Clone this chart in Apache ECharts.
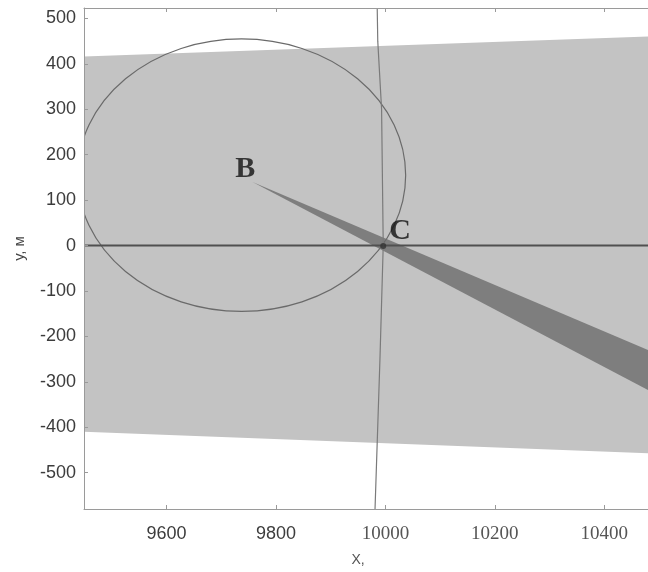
<!DOCTYPE html>
<html>
<head>
<meta charset="utf-8">
<script src="https://cdn.jsdelivr.net/npm/echarts@6/dist/echarts.min.js"></script>
<style>html,body{margin:0;padding:0;background:#fff}#c{width:648px;height:572px}</style>
</head>
<body>
<div id="c"></div>
<script>
// ---- data ----
const xTicks = [9600, 9800, 10000, 10200, 10400];
const yTicks = [-500, -400, -300, -200, -100, 0, 100, 200, 300, 400, 500];
const xRange = [9449, 10480];
const yRange = [-580, 523];
const band = [[9449, 416], [10480, 460], [10480, -457], [9449, -410]];
const wedge = [[9757, 140], [10480, -230], [10480, -318]];
const circleCenter = [9737, 155];
const circleRadius = 300;
const zeroLine = [[9449, 0], [10480, 0]];
const vLine = [[9985, 523], [9986, 450], [9993, 300], [9996, 0], [9990, -250], [9981, -580]];
const knot = [[9996, -1]];
const pointLabels = [{ name: 'B', value: [9744, 167] }, { name: 'C', value: [10027, 32] }];

const chart = echarts.init(document.getElementById('c'), null, { renderer: 'canvas' });

function polyItem(points, fill) {
  return function (params, api) {
    return {
      type: 'polygon',
      shape: { points: points.map(p => api.coord(p)) },
      style: { fill: fill, stroke: null }
    };
  };
}

const axisCommon = {
  axisLine: { show: true, onZero: false, lineStyle: { color: '#9a9a9a', width: 1 } },
  axisTick: { show: true, inside: true, length: 4, lineStyle: { color: '#9a9a9a' } },
  splitLine: { show: false },
  z: 10
};

chart.setOption({
  animation: false,
  backgroundColor: '#ffffff',
  grid: { left: 84, right: 0, top: 8, bottom: 63 },
  xAxis: [
    Object.assign({}, axisCommon, {
      type: 'value', position: 'bottom', min: xRange[0], max: xRange[1],
      axisTick: Object.assign({}, axisCommon.axisTick, { customValues: xTicks }),
      axisLabel: {
        customValues: xTicks, margin: 16,
        formatter: v => (v < 10000 ? '{s|' + v + '}' : '{t|' + v + '}'),
        rich: {
          s: { fontFamily: 'Liberation Sans', fontSize: 18, color: '#3c3c3c' },
          t: { fontFamily: 'Liberation Serif', fontSize: 19, color: '#555555' }
        }
      },
      name: 'X,', nameLocation: 'middle', nameGap: 44,
      nameTextStyle: { fontFamily: 'Liberation Sans', fontSize: 14, color: '#555555', padding: [0, 16, 0, 0] }
    }),
    Object.assign({}, axisCommon, {
      type: 'value', position: 'top', min: xRange[0], max: xRange[1],
      axisTick: Object.assign({}, axisCommon.axisTick, { customValues: xTicks }),
      axisLabel: { show: false }
    })
  ],
  yAxis: [
    Object.assign({}, axisCommon, {
      type: 'value', position: 'left', min: yRange[0], max: yRange[1],
      axisTick: Object.assign({}, axisCommon.axisTick, { customValues: yTicks }),
      axisLabel: { customValues: yTicks, margin: 8, fontFamily: 'Liberation Sans', fontSize: 18, color: '#3c3c3c' },
      name: 'у, м', nameLocation: 'middle', nameGap: 57, nameRotate: 90,
      nameTextStyle: { fontFamily: 'Liberation Sans', fontSize: 15, color: '#444444', padding: [0, 0, 0, 20] }
    })
  ],
  series: [
    {
      type: 'custom', name: 'band', z: 1, clip: true, silent: true,
      data: [0], renderItem: polyItem(band, '#c3c3c3')
    },
    {
      type: 'custom', name: 'wedge', z: 2, clip: true, silent: true,
      data: [0], renderItem: polyItem(wedge, '#7e7e7e')
    },
    {
      type: 'custom', name: 'circle', z: 3, clip: true, silent: true,
      data: [0],
      renderItem: function (params, api) {
        const c = api.coord(circleCenter);
        const s = api.size([circleRadius, circleRadius]);
        const rx = s[0], ry = s[1];
        const d = 'M ' + (c[0] - rx) + ' ' + c[1] +
          ' A ' + rx + ' ' + ry + ' 0 1 0 ' + (c[0] + rx) + ' ' + c[1] +
          ' A ' + rx + ' ' + ry + ' 0 1 0 ' + (c[0] - rx) + ' ' + c[1] + ' Z';
        return { type: 'path', shape: { pathData: d }, style: { fill: null, stroke: '#6a6a6a', lineWidth: 1.2 } };
      }
    },
    {
      type: 'line', name: 'zero', z: 4, data: zeroLine, symbol: 'none', silent: true,
      lineStyle: { color: '#505050', width: 2 }
    },
    {
      type: 'line', name: 'vline', z: 4, data: vLine, symbol: 'none', silent: true,
      lineStyle: { color: '#7a7a7a', width: 1.2 }
    },
    {
      type: 'scatter', name: 'knot', z: 5, data: knot, symbol: 'circle', symbolSize: 6, silent: true,
      itemStyle: { color: '#333333' }
    },
    {
      type: 'scatter', name: 'labels', z: 6, data: pointLabels, symbolSize: 0, silent: true,
      label: {
        show: true, position: 'inside', formatter: '{b}',
        fontFamily: 'Liberation Serif', fontWeight: 'bold', fontSize: 30, color: '#111111'
      }
    }
  ]
});
</script>
</body>
</html>
